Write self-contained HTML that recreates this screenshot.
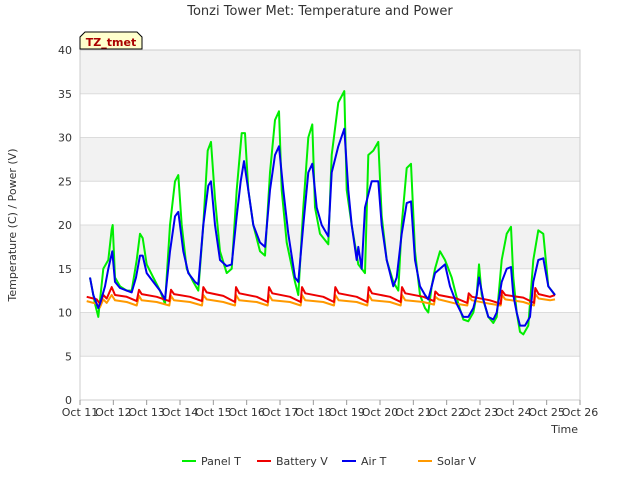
<!DOCTYPE html>
<html><head><meta charset="utf-8"><style>
body{margin:0;background:#fff;font-family:"Liberation Sans","DejaVu Sans",sans-serif}
svg text{font-family:"DejaVu Sans","Liberation Sans",sans-serif}
</style></head><body>
<svg id="c" width="640" height="480" xmlns="http://www.w3.org/2000/svg">
<text x="320" y="15" text-anchor="middle" font-size="13" fill="#333">Tonzi Tower Met: Temperature and Power</text>
<g id="bands"></g><g id="grid"></g><g id="axes"></g><g id="series"></g>
<text x="16" y="225" transform="rotate(-90 16 225)" text-anchor="middle" font-size="11" fill="#333">Temperature (C) / Power (V)</text>
<text x="578" y="433" text-anchor="end" font-size="11" fill="#333">Time</text>
<g>
<path d="M80,49 L80,37 L85,32 L137,32 L142,37 L142,49 Z" fill="#ffffcc" stroke="#000"/>
<text x="111" y="46" text-anchor="middle" font-size="11" font-weight="bold" fill="#aa0000">TZ_tmet</text></g>
<g id="legend"></g>
</svg>
<script>
const xTickLabels=["Oct 11","Oct 12","Oct 13","Oct 14","Oct 15","Oct 16","Oct 17","Oct 18","Oct 19","Oct 20","Oct 21","Oct 22","Oct 23","Oct 24","Oct 25","Oct 26"];
const yTicks=[0,5,10,15,20,25,30,35,40];
const panelT_t=[0.3,0.45,0.55,0.7,0.85,0.95,0.98,1.05,1.2,1.4,1.55,1.7,1.8,1.88,2.0,2.2,2.4,2.55,2.7,2.85,2.95,3.05,3.2,3.4,3.55,3.7,3.83,3.93,4.05,4.2,4.4,4.55,4.7,4.85,4.95,5.05,5.2,5.4,5.55,5.7,5.85,5.97,6.05,6.2,6.45,6.55,6.7,6.85,6.97,7.05,7.2,7.45,7.55,7.75,7.93,8.0,8.15,8.35,8.55,8.65,8.8,8.95,9.05,9.2,9.4,9.55,9.65,9.8,9.93,10.05,10.2,10.35,10.45,10.55,10.65,10.8,10.95,11.15,11.35,11.5,11.65,11.8,11.9,11.97,12.05,12.25,12.4,12.5,12.65,12.8,12.93,13.0,13.1,13.2,13.3,13.45,13.6,13.75,13.9,14.05,14.25];
const panelT_v=[14,11,9.5,15,16,19.5,20,14,13,12.5,12.5,16,19,18.5,15.5,14,12.5,11,20,25,25.7,20,15,13.5,12.5,20,28.5,29.5,23,17,14.5,15,24,30.5,30.5,24,20,17,16.5,26,32,33,24,18,13.5,12,22,30,31.5,22,19,17.8,28,34,35.3,24,20,15.5,14.5,28,28.5,29.5,21,16,13.5,12.5,20,26.5,27,17,12,10.5,10,13,15,17,16,14,11,9.2,9,10,12,15.5,12,9.5,8.8,9.5,16,19,19.8,14,10,7.8,7.5,8.5,16,19.4,19,13,12];
const airT_t=[0.3,0.4,0.55,0.6,0.75,0.85,0.97,1.05,1.2,1.4,1.55,1.68,1.8,1.88,2.0,2.2,2.4,2.55,2.7,2.85,2.95,3.1,3.25,3.45,3.55,3.7,3.85,3.93,4.05,4.2,4.4,4.55,4.7,4.82,4.92,5.05,5.2,5.4,5.55,5.7,5.85,5.97,6.1,6.25,6.45,6.55,6.7,6.85,6.97,7.1,7.25,7.45,7.55,7.75,7.93,8.05,8.15,8.3,8.35,8.45,8.55,8.75,8.95,9.05,9.2,9.4,9.5,9.65,9.8,9.93,10.05,10.2,10.35,10.45,10.55,10.65,10.8,10.95,11.1,11.3,11.5,11.65,11.8,11.9,11.97,12.1,12.25,12.4,12.5,12.65,12.8,12.93,13.0,13.1,13.2,13.35,13.5,13.6,13.75,13.9,14.05,14.25];
const airT_v=[14,12,10.5,11,13,15,17,13.5,12.8,12.5,12.3,14,16.5,16.5,14.5,13.5,12.5,11.5,17,21,21.5,17,14.5,13.5,13.2,20,24.5,25,20,16,15.3,15.5,21,25,27.3,24,20,18,17.5,24,28,29,24,19,14,13.5,20,26,27,22,20,18.7,26,29,31,24,20,16,17.5,15,22,25,25,20,16,13,14,19,22.5,22.7,16,13,12,11.5,13,14.5,15,15.5,13,11,9.5,9.5,10.5,12,14,11.5,9.5,9.2,10,13.5,15,15.2,12,10,8.5,8.5,9.5,13.5,16,16.2,13,12];
const batt_t=[0.2,0.5,0.6,0.7,0.8,0.95,1.05,1.4,1.7,1.77,1.85,2.3,2.68,2.73,2.82,3.3,3.66,3.7,3.8,4.3,4.65,4.68,4.78,5.3,5.63,5.67,5.77,6.3,6.62,6.66,6.76,7.3,7.62,7.66,7.76,8.3,8.62,8.66,8.76,9.3,9.62,9.66,9.76,10.3,10.62,10.66,10.76,11.3,11.62,11.66,11.76,12.3,12.62,12.66,12.76,13.3,13.62,13.66,13.76,14.1,14.25];
const batt_v=[11.8,11.5,11.0,12.0,11.6,12.9,12.0,11.8,11.3,12.6,12.1,11.8,11.3,12.6,12.1,11.8,11.3,12.9,12.3,11.9,11.2,12.9,12.2,11.8,11.2,12.9,12.2,11.8,11.2,12.9,12.2,11.8,11.2,12.9,12.2,11.8,11.2,12.9,12.2,11.8,11.2,12.9,12.2,11.8,11.3,12.4,12.0,11.6,11.1,12.2,11.8,11.4,11.0,12.5,12.0,11.7,11.1,12.8,12.1,11.8,12.0];
const solar_v=[11.3,11.0,10.6,11.5,11.1,12.0,11.4,11.2,10.8,11.9,11.4,11.2,10.8,11.9,11.4,11.2,10.8,12.0,11.5,11.2,10.8,12.0,11.4,11.2,10.8,12.0,11.4,11.2,10.8,12.0,11.4,11.2,10.8,12.0,11.4,11.2,10.8,12.0,11.4,11.2,10.8,12.0,11.4,11.2,10.9,11.8,11.5,11.0,10.8,11.8,11.4,11.0,10.8,12.0,11.5,11.2,10.8,12.1,11.6,11.4,11.5];
const NS="http://www.w3.org/2000/svg";
const X0=80,X1=580,Y0=400,Y1=50;
const xs=t=>X0+t*(X1-X0)/15, ys=v=>Y0-v*(Y0-Y1)/40;
function mk(tag,attrs,parent){const e=document.createElementNS(NS,tag);for(const k in attrs)e.setAttribute(k,attrs[k]);parent.appendChild(e);return e;}
const bands=document.getElementById('bands'),grid=document.getElementById('grid'),axes=document.getElementById('axes'),series=document.getElementById('series'),legend=document.getElementById('legend');
mk('rect',{x:X0,y:Y1,width:X1-X0,height:Y0-Y1,fill:'#fff'},bands);
for(let i=1;i<yTicks.length-1;i+=2){const r=mk('rect',{x:X0,y:ys(yTicks[i+1]),width:X1-X0,height:ys(yTicks[i])-ys(yTicks[i+1]),fill:'#f2f2f2'},bands);

}
yTicks.forEach(v=>{const l=mk('line',{x1:X0,x2:X1,y1:ys(v),y2:ys(v),stroke:'#dcdcdc'},grid);


const t=mk('text',{x:X0-8,y:ys(v)+4,'text-anchor':'end','font-size':11,fill:'#333'},axes);t.textContent=v;

});
mk('rect',{x:X0,y:Y1,width:X1-X0,height:Y0-Y1,fill:'none',stroke:'#ccc'},axes);
xTickLabels.forEach((s,i)=>{mk('line',{x1:xs(i),x2:xs(i),y1:Y0,y2:Y0+5,stroke:'#999'},axes);
const t=mk('text',{x:xs(i),y:Y0+16,'text-anchor':'middle','font-size':11,fill:'#333'},axes);t.textContent=s;

});
function line(ts,vs,color,name){const d=ts.map((t,i)=>(i?'L':'M')+xs(t).toFixed(1)+','+ys(vs[i]).toFixed(1)).join('');
const p=mk('path',{d:d,fill:'none',stroke:color,'stroke-width':2,'stroke-linejoin':'round'},series);

}
line(panelT_t,panelT_v,'#00ee00','panel-t-line');
line(batt_t,solar_v,'#ff9900','solar-v-line');
line(batt_t,batt_v,'#ee0000','battery-v-line');
line(airT_t,airT_v,'#0000ee','air-t-line');
const leg=[["Panel T","#00ee00",182],["Battery V","#ee0000",257],["Air T","#0000ee",342],["Solar V","#ff9900",418]];
leg.forEach(([s,c,x])=>{const g=mk('g',{},legend);


mk('line',{x1:x,x2:x+14,y1:461,y2:461,stroke:c,'stroke-width':2},g);
const t=mk('text',{x:x+19,y:465,'font-size':11,fill:'#333'},g);t.textContent=s;});
</script>
</body></html>
